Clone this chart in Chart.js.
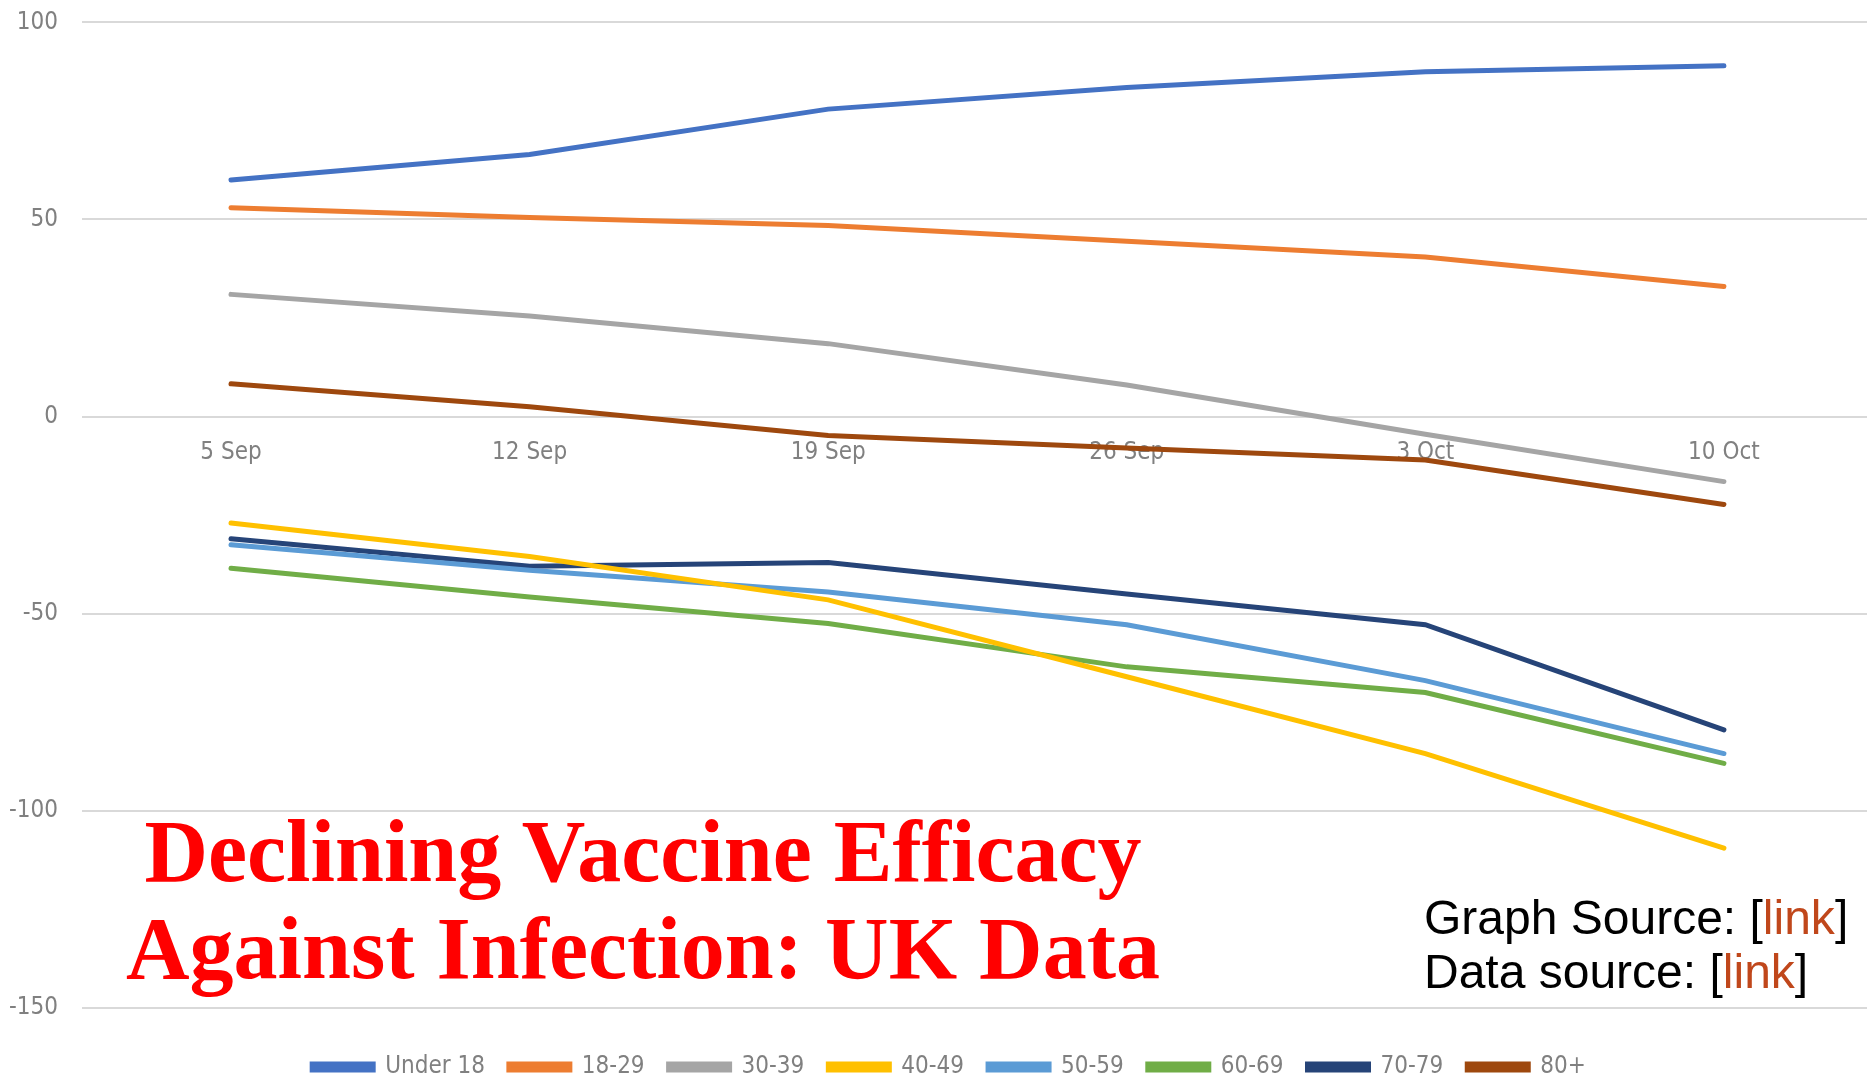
<!DOCTYPE html>
<html>
<head>
<meta charset="utf-8">
<title>Declining Vaccine Efficacy Against Infection: UK Data</title>
<script src="https://cdn.jsdelivr.net/npm/chart.js@4.4.0/dist/chart.umd.min.js"></script>
<style>
  html, body { margin: 0; padding: 0; background: #fff; overflow: hidden; }
  /* the canvas is a bit wider than the window: the original plot is cropped on the right */
  #wrap { position: relative; width: 1867px; height: 1079px; overflow: hidden; }
  #chart { position: absolute; left: 0; top: 0; }
  .title {
    position: absolute; left: 43px; top: 803px; width: 1200px;
    text-align: center; color: #ff0000;
    font: bold 88px/97px 'Liberation Serif', 'Times New Roman', serif;
  }
  .sources {
    position: absolute; left: 1424px; top: 891px;
    color: #000; font: 48px/54px 'Liberation Sans', Arial, sans-serif;
  }
  .sources .lnk { color: #c0471b; }
</style>
</head>
<body>
<div id="wrap">
  <canvas id="chart" width="1900" height="1079"></canvas>
  <div class="title">Declining Vaccine Efficacy<br>Against Infection: UK Data</div>
  <div class="sources">Graph Source: [<span class="lnk">link</span>]<br>Data source: [<span class="lnk">link</span>]</div>
</div>
<script>
/* ---- data ---- */
const weeks = ['5 Sep', '12 Sep', '19 Sep', '26 Sep', '3 Oct', '10 Oct'];
const yTicks = [100, 50, 0, -50, -100, -150];

const under18 = [60, 66.5, 78, 83.5, 87.5, 89];
const age18to29 = [53, 50.5, 48.5, 44.5, 40.5, 33];
const age30to39 = [31, 25.5, 18.5, 8, -4.5, -16.5];
const age40to49 = [-27, -35.5, -46.5, -66, -85.5, -109.5];
const age50to59 = [-32.5, -39, -44.5, -52.8, -67, -85.5];
const age60to69 = [-38.5, -45.8, -52.5, -63.5, -70, -88];
const age70to79 = [-31, -38, -37, -45, -52.8, -79.5];
const age80plus = [8.3, 2.5, -4.8, -8, -11, -22.3];

const seriesNames = ['Under 18', '18-29', '30-39', '40-49', '50-59', '60-69', '70-79', '80+'];
const seriesData = [under18, age18to29, age30to39, age40to49, age50to59, age60to69, age70to79, age80plus];
const seriesColors = ['#4472C4', '#ED7D31', '#A5A5A5', '#FFC000', '#5B9BD5', '#70AD47', '#264478', '#9E480E'];

const axisFont = "'Liberation Sans Narrow', 'DejaVu Sans Condensed', Roboto, sans-serif";

// week index on a linear axis, so the plot can run past the right edge
const weekIndex = weeks.map((w, i) => i);

const datasets = seriesNames.map((name, i) => ({
  label: name,
  data: seriesData[i],
  borderColor: seriesColors[i],
  backgroundColor: seriesColors[i],
  borderWidth: 5,
  pointRadius: 0,
  tension: 0,
  borderCapStyle: 'round'
}));

new Chart(document.getElementById('chart'), {
  type: 'line',
  data: { labels: weekIndex, datasets: datasets },
  options: {
    responsive: false,
    animation: false,
    layout: { padding: { top: 0, right: 2, bottom: -10, left: 0 } },
    scales: {
      x: {
        type: 'linear',
        position: { y: 0 },
        min: -0.499,
        max: 5.583,
        afterBuildTicks: (scale) => { scale.ticks = weekIndex.map(v => ({ value: v })); },
        grid: { display: false, drawTicks: false },
        border: { display: false },
        ticks: {
          padding: 22,
          color: '#808080',
          maxRotation: 0,
          font: { family: axisFont, size: 24 },
          callback: (v) => weeks[v]
        }
      },
      y: {
        min: -150,
        max: 100,
        afterBuildTicks: (scale) => { scale.ticks = yTicks.map(v => ({ value: v })); },
        afterFit: (scale) => { scale.width = 82; },
        // invisible tick marks push the labels left without adding top padding
        grid: { color: '#d9d9d9', lineWidth: 2, drawTicks: true, tickLength: 16, tickColor: 'rgba(0,0,0,0)' },
        border: { display: false },
        ticks: {
          padding: 8,
          color: '#808080',
          font: { family: axisFont, size: 24 }
        }
      }
    },
    plugins: {
      legend: {
        position: 'bottom',
        title: { display: true, text: '', font: { size: 1 }, padding: { top: 0, bottom: 22 } },
        labels: {
          boxWidth: 61,
          boxHeight: 6,
          padding: 24,
          color: '#808080',
          font: { family: axisFont, size: 24 }
        }
      },
      tooltip: { enabled: false }
    }
  }
});
</script>
</body>
</html>
